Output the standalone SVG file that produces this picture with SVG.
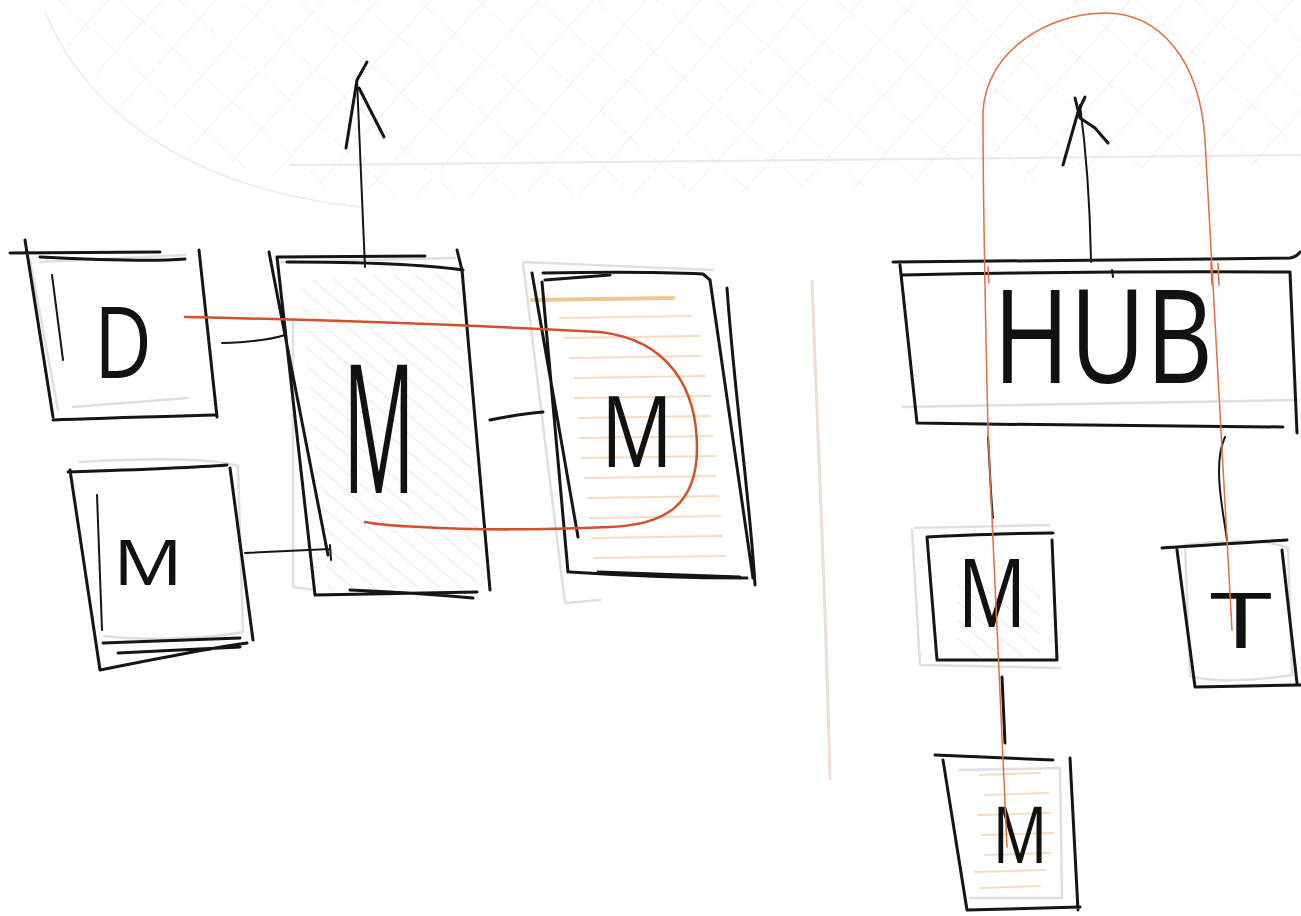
<svg xmlns="http://www.w3.org/2000/svg" width="1301" height="916" viewBox="0 0 1301 916">
<defs>
<style>
.ink{fill:none;stroke:#151515;stroke-width:3;stroke-linecap:round;stroke-linejoin:round}
.ink2{fill:none;stroke:#151515;stroke-width:2;stroke-linecap:round;stroke-linejoin:round}
.ghost{fill:none;stroke:#e0e0e0;stroke-width:2.5;stroke-linecap:round;stroke-linejoin:round}
.red{fill:none;stroke:#d4502a;stroke-width:2.5;stroke-linecap:round;stroke-linejoin:round}
.redthin{fill:none;stroke:#df7040;stroke-width:1.5;stroke-linecap:round;stroke-linejoin:round}
.ohatch{fill:none;stroke:#f6dcc0;stroke-width:2;stroke-linecap:round}
.lbl{font-family:"Open Sans","Liberation Sans",sans-serif;font-weight:400;fill:#111;text-anchor:middle}
</style>
<pattern id="xh" width="40" height="40" patternUnits="userSpaceOnUse" patternTransform="rotate(42)">
<line x1="0" y1="0" x2="0" y2="40" stroke="#eee6e9" stroke-width="1.2"/>
<line x1="0" y1="0" x2="40" y2="0" stroke="#eaeaef" stroke-width="1.2"/>
</pattern>
<pattern id="gh" width="14" height="14" patternUnits="userSpaceOnUse" patternTransform="rotate(-50)">
<line x1="0" y1="0" x2="0" y2="14" stroke="#d8d8d8" stroke-width="1.2"/>
</pattern>
<clipPath id="skyclip"><path d="M50,0 C70,110 220,190 420,195 C700,200 1000,180 1301,165 L1301,0 Z"/></clipPath>
</defs>

<g id="background">
<rect x="0" y="0" width="1301" height="916" fill="#ffffff"/>
<rect x="0" y="0" width="1301" height="220" fill="url(#xh)" clip-path="url(#skyclip)"/>
<path d="M45,12 C90,120 200,190 360,207" fill="none" stroke="#efe9ea" stroke-width="1.5"/>
<path d="M290,165 C600,163 900,160 1301,155" fill="none" stroke="#f1e6e8" stroke-width="2"/>
<path d="M812,280 C818,450 826,600 830,780" fill="none" stroke="#eedfd6" stroke-width="3"/>
</g>

<g id="node-d">
<path class="ghost" d="M40,262 L185,255 M73,407 L188,398 M30,260 L58,410"/>
<path class="ink" d="M10,253 L160,252 M40,257 C100,260 150,262 185,259 M25,240 L53,417 M53,420 C100,418 180,416 215,415 M199,250 L217,417"/>
<path class="ink2" d="M52,275 L63,360"/>
<text class="lbl" x="123" y="378" font-size="98" textLength="58" lengthAdjust="spacingAndGlyphs">D</text>
</g>

<g id="node-m-left">
<path class="ghost" d="M80,462 C150,458 210,458 238,466 L243,632 C200,640 140,640 104,636"/>
<path class="ink" d="M68,472 C130,470 190,468 227,465 M70,470 L100,670 M230,468 L253,640 M100,670 C150,660 210,648 247,643 M103,643 L240,638 M118,653 L240,647"/>
<path class="ink2" d="M97,495 L102,630"/>
<text class="lbl" x="148" y="585" font-size="62" textLength="70" lengthAdjust="spacingAndGlyphs">M</text>
</g>

<g id="node-m-center">
<path d="M300,280 L458,272 L485,588 L328,590 Z" fill="url(#gh)"/>
<path class="ghost" d="M293,320 L293,587 L315,590 M280,262 L455,258"/>
<path class="ink" d="M269,252 L285,335 L328,555 M277,257 L315,595 M277,257 L425,256 M287,262 C350,262 420,264 463,270 M457,250 L462,270 L490,590 M315,595 L477,592 M350,590 C400,592 440,595 473,598"/>
<text class="lbl" x="379" y="493" font-size="180" textLength="72" lengthAdjust="spacingAndGlyphs">M</text>
</g>

<g id="node-m-right">
<path class="ghost" d="M523,262 L713,270 M523,263 L565,603 L600,600"/>
<path d="M532,300 L673,298" fill="none" stroke="#f0c690" stroke-width="4" stroke-linecap="round"/>
<path class="ohatch" d="M560,318 L690,316 M565,338 L700,336 M570,358 L700,356 M575,378 L705,376 M575,398 L710,396 M578,418 L710,416 M580,438 L712,436 M582,458 L715,456 M585,478 L715,476 M588,498 L718,496 M590,518 L720,516 M592,538 L722,536 M595,558 L725,556"/>
<path class="ink" d="M532,273 L578,537 M542,282 L568,572 M543,273 C600,272 660,272 703,274 L710,280 M545,280 L610,275 M710,280 L753,578 M727,288 C735,400 750,500 755,585 M570,572 C630,576 700,578 747,578 M598,572 L740,577"/>
<text class="lbl" x="637" y="467" font-size="98" textLength="72" lengthAdjust="spacingAndGlyphs">M</text>
</g>

<g id="node-hub">
<path class="ghost" d="M903,407 C1050,404 1200,402 1297,400"/>
<path class="ink" d="M893,262 C1000,262 1150,260 1290,258 C1295,257 1298,255 1300,252 M903,275 C1000,273 1100,271 1290,272 M900,265 L917,423 M917,423 C1050,425 1200,427 1283,427 M1290,272 L1297,433"/>
<path class="ink2" d="M1112,270 L1113,277"/>
<text class="lbl" x="1103" y="383" font-size="130" textLength="220" lengthAdjust="spacingAndGlyphs">HUB</text>
</g>

<g id="node-m-hub">
<path d="M957,583 L1040,583 L1040,657 L957,657 Z" fill="url(#gh)"/>
<path class="ghost" d="M915,528 L1050,525 M912,530 L920,665 L1060,668"/>
<path class="ink" d="M927,537 C970,535 1020,533 1053,533 M927,537 L937,660 M937,660 L1057,660 M1052,540 L1057,660"/>
<text class="lbl" x="992" y="627" font-size="95" textLength="69" lengthAdjust="spacingAndGlyphs">M</text>
</g>

<g id="node-t">
<path class="ghost" d="M1185,545 C1230,540 1270,540 1288,548 L1292,675 C1250,682 1210,682 1190,676 Z"/>
<path class="ink" d="M1162,548 C1200,546 1250,542 1287,540 M1177,550 L1195,687 M1195,687 L1300,685 M1282,550 L1297,683"/>
<text class="lbl" x="1241" y="648" font-size="77" textLength="62" lengthAdjust="spacingAndGlyphs">T</text>
</g>

<g id="node-m-bottom">
<path class="ghost" d="M960,770 L1060,768 L1062,898 L970,898"/>
<path class="ohatch" d="M980,775 L1040,773 M985,795 L1048,793 M978,815 L1050,813 M982,835 L1053,833 M985,855 L1050,853 M975,872 L1045,870 M980,888 L1040,886"/>
<path class="ink" d="M935,755 L1053,760 M943,760 L967,910 M967,910 L1080,907 M1070,758 L1078,910"/>
<text class="lbl" x="1020" y="863" font-size="78" textLength="55" lengthAdjust="spacingAndGlyphs">M</text>
</g>

<g id="connectors">
<path class="ink2" d="M222,343 C250,342 270,340 285,335"/>
<path class="ink2" d="M245,553 L330,549 M330,545 L331,560"/>
<path class="ink" d="M490,420 C510,416 530,413 543,412"/>
<path class="ink2" d="M365,267 C362,200 359,130 357,80"/>
<path class="ink" d="M346,148 L357,80 L367,62 M359,88 L384,137"/>
<path class="ink2" d="M1091,262 C1090,200 1086,150 1080,105"/>
<path class="ink" d="M1063,165 L1078,112 L1085,97 M1075,98 L1080,118 L1095,128 L1108,143"/>
<path class="ink2" d="M988,437 C990,470 991,500 993,518"/>
<path class="ink2" d="M1225,437 C1219,450 1218,470 1220,490 C1222,510 1225,525 1227,540"/>
<path class="ink" d="M1002,677 L1005,743"/>
<path class="red" d="M185,317 C330,320 470,325 600,332 C670,340 697,390 697,448 C697,505 665,525 610,527 C540,530 470,530 420,527 C395,526 375,524 365,522"/>
<path class="redthin" d="M1007,847 L988,430 C985,300 983,200 983,113 C985,50 1050,13 1105,13 C1160,13 1200,60 1205,140 C1210,250 1218,400 1232,630"/>
<path class="redthin" d="M988,267 L989,283 M1211,263 L1212,285 M1218,263 L1219,285"/>
</g>
</svg>
